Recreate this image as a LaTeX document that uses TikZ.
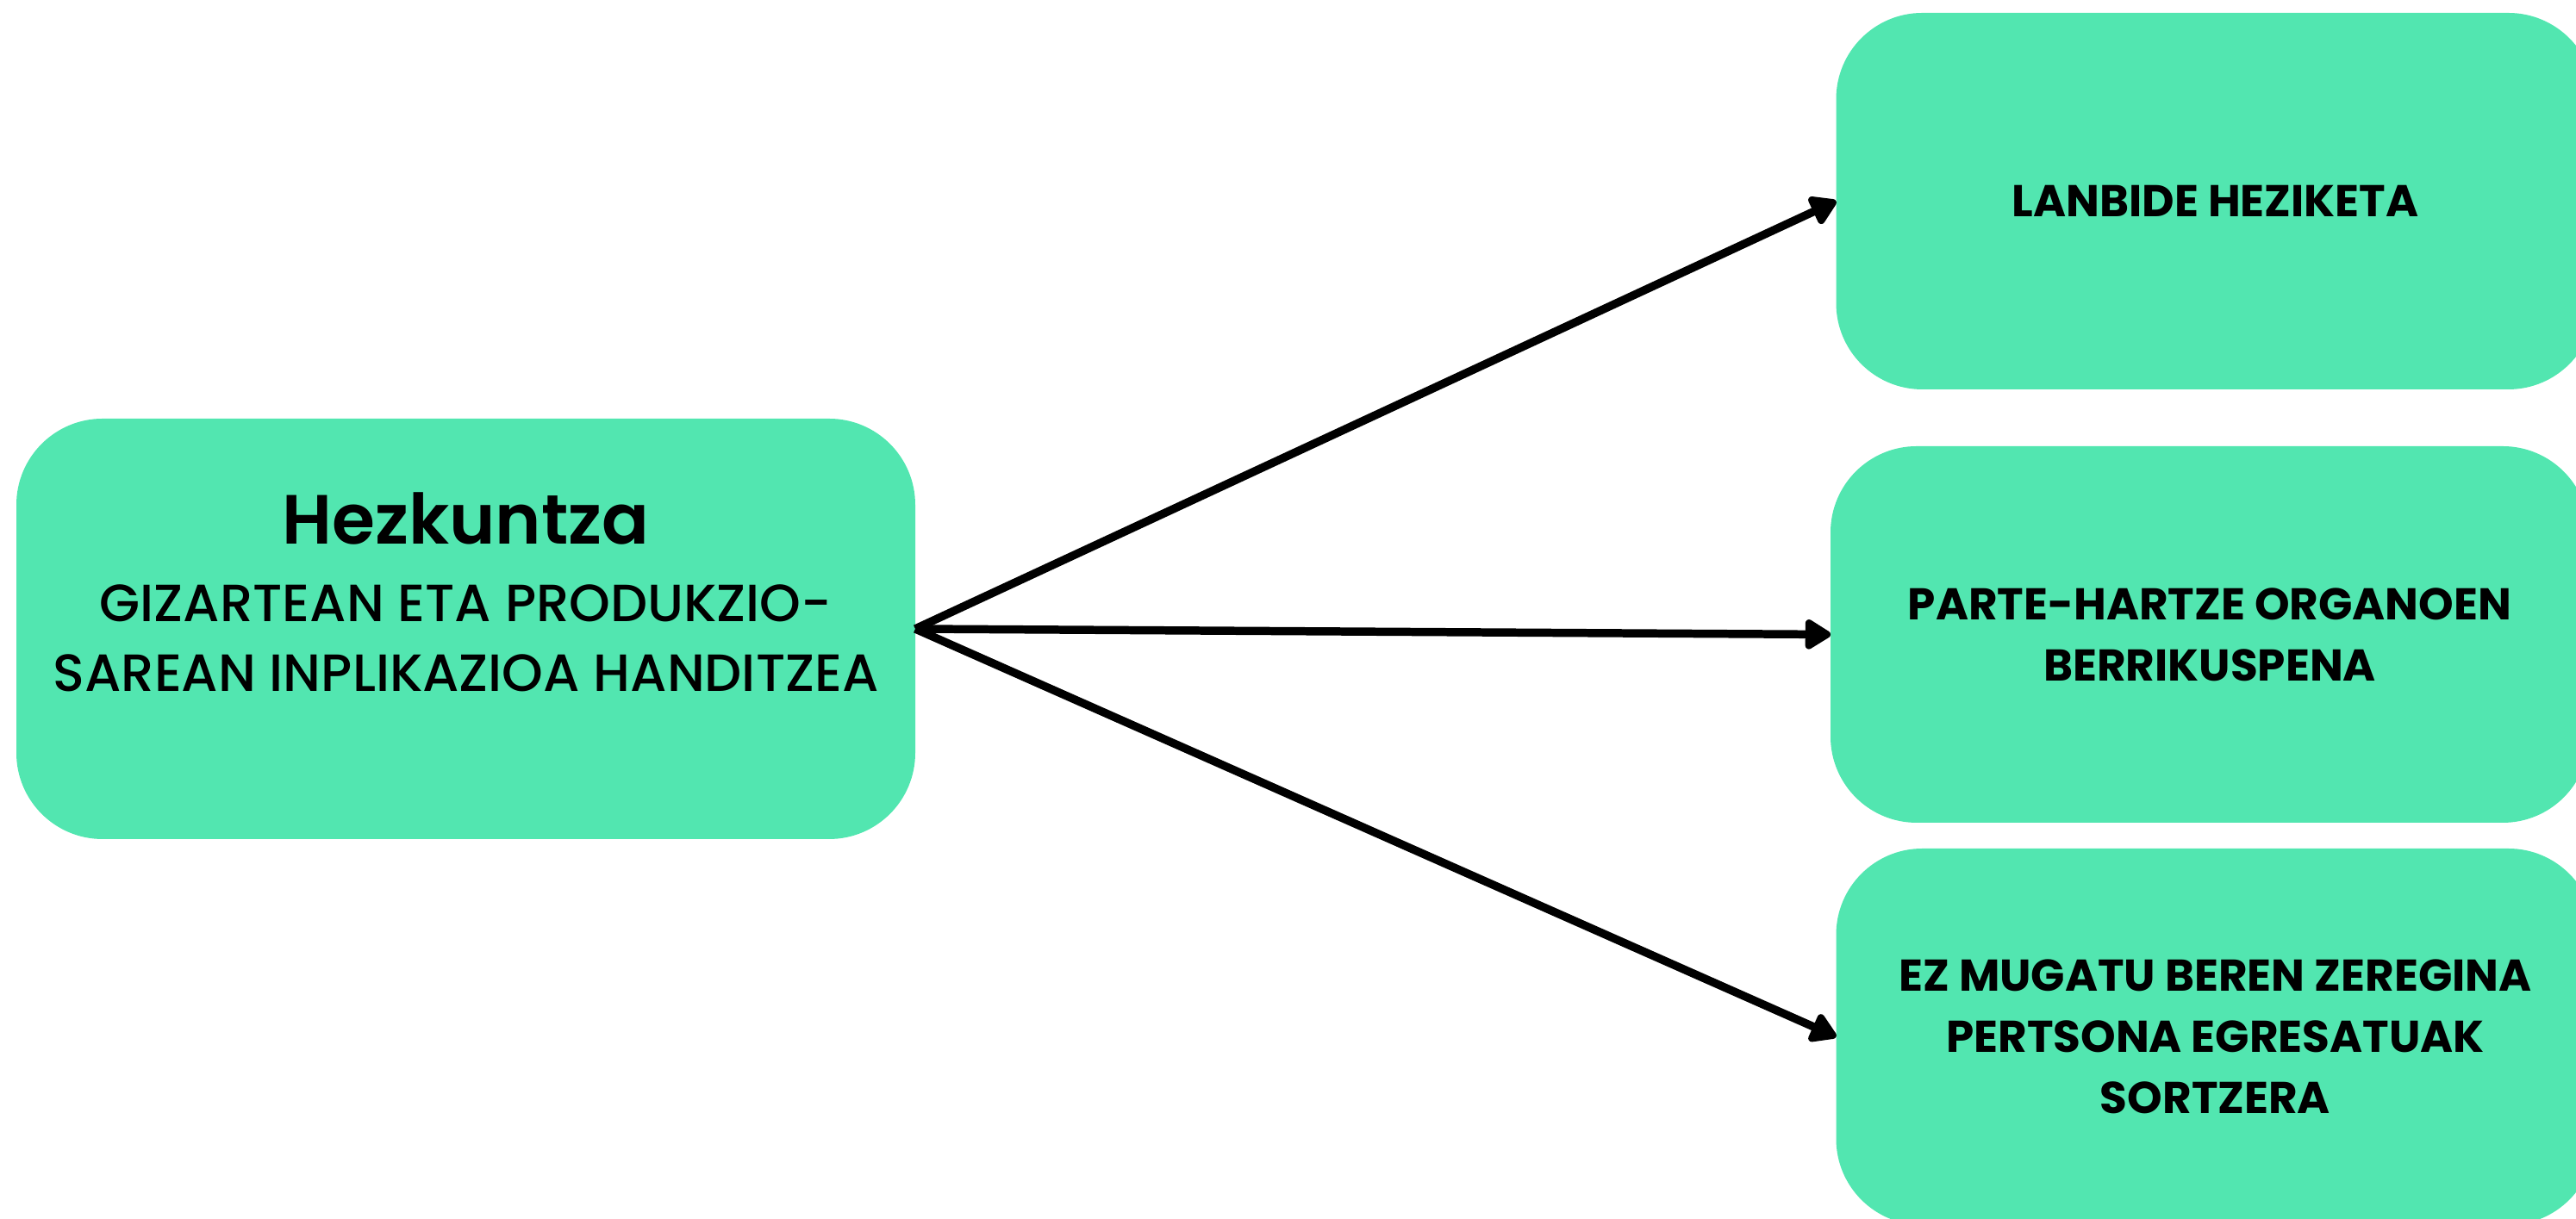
\documentclass[tikz,border=0pt]{standalone}
\usepackage{fontspec}
\setmainfont{Poppins}
\newfontfamily\popmed{Poppins Medium}
\newfontfamily\popsemi{Poppins SemiBold}
\usetikzlibrary{arrows.meta}
\definecolor{mint}{HTML}{52E6B0}

\begin{document}
\begin{tikzpicture}[line width=2.7pt, >={Triangle[length=9.5pt,width=11pt,round]},
box node/.style={rounded corners=1cm,fill=mint,inner sep=0pt,outer sep=0pt},
goal node/.style={box node,minimum width=8.8cm,minimum height=4.37cm,align=center,font=\fontsize{14.7}{20.3}\selectfont\bfseries}]
\useasboundingbox (0,0) rectangle (29.89,14.15);
\begin{scope}
\node[box node,minimum width=10.43cm,minimum height=4.88cm] (hub) at (5.405,6.85) {};
\node[font=\popsemi\fontsize{23}{27}\selectfont] (title) at (5.405,8.13) {Hezkuntza};
\node[align=center,font=\popmed\fontsize{17.3}{23}\selectfont] (subtitle) at (5.405,6.745) {GIZARTEAN ETA PRODUKZIO-\\SAREAN INPLIKAZIOA HANDITZEA};
\node[goal node] (g1) at (25.705,11.815) {LANBIDE HEZIKETA};
\node[goal node] (g2) at (25.64,6.785) {PARTE-HARTZE ORGANOEN\\BERRIKUSPENA};
\node[goal node] (g3) at (25.705,2.115) {EZ MUGATU BEREN ZEREGINA\\PERTSONA EGRESATUAK\\SORTZERA};
%\node[goal node] () at (,) {};
\end{scope}
\begin{scope}
\draw[->] (hub.east) -- (g1.west);
\draw[->] (hub.east) -- (g2.west);
\draw[->] (hub.east) -- (g3.west);
\end{scope}
\end{tikzpicture}
\end{document}
